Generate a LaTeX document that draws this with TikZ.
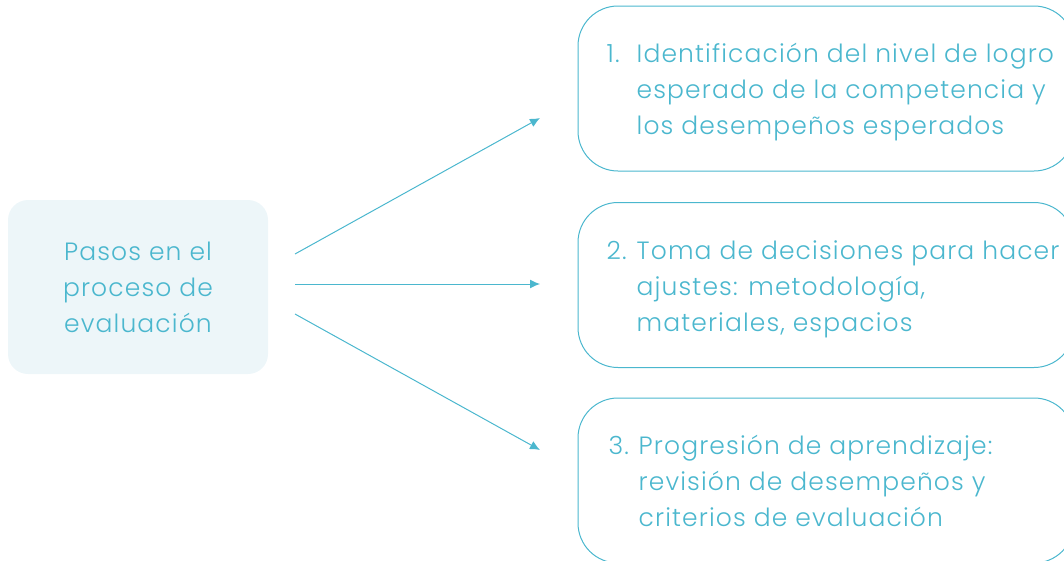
\documentclass[tikz,border=0pt]{standalone}
\usepackage{fontspec}
\setmainfont[LetterSpace=4.5]{Poppins Light}
\usetikzlibrary{positioning,arrows.meta}

\definecolor{pasoazul}{HTML}{4BB7CE}
\definecolor{pasofondo}{HTML}{EDF6F9}

\tikzset{
  pasobox/.style={draw=pasoazul, line width=1pt, rounded corners=40pt,
    minimum width=496pt, minimum height=165pt, inner sep=0pt},
  pasotexto/.style={text=pasoazul, font=\fontsize{25}{36}\selectfont,
    align=left, inner sep=0pt},
  flecha/.style={->, draw=pasoazul, line width=1pt}
}

\begin{document}
\begin{tikzpicture}[x=1pt,y=-1pt,>={Latex[length=10pt,width=9pt]}]
\useasboundingbox (0,0) rectangle (1064,560);
\clip (0,0) rectangle (1064,560);

        % left box
        \node[fill=pasofondo, rounded corners=20pt, minimum width=260pt,
              minimum height=174pt, text=pasoazul,
              font=\fontsize{25}{36}\selectfont, align=center]
              (pasos) at (138,287) {Pasos en el\\proceso de\\evaluación};

        % the three steps
        \node[pasobox] (b1) at (826,88.5) {};
        \node[pasobox] (b2) at (826,285) {};
        \node[pasobox] (b3) at (826,480.5) {};

        \node[pasotexto, right=29pt of b1.west, yshift=-3pt] (t1)
          {\begin{tabular}{@{}p{30pt}@{}l@{}}
           1. & Identificación del nivel de logro\\
              & esperado de la competencia y\\
              & los desempeños esperados
           \end{tabular}};
        \node[pasotexto, right=29pt of b2.west, yshift=-3pt] (t2)
          {\begin{tabular}{@{}p{30pt}@{}l@{}}
           2. & Toma de decisiones para hacer\\
              & ajustes: metodología,\\
              & materiales, espacios
           \end{tabular}};
        \node[pasotexto, right=31pt of b3.west, yshift=-3pt] (t3)
          {\begin{tabular}{@{}p{30pt}@{}l@{}}
           3. & Progresión de aprendizaje:\\
              & revisión de desempeños y\\
              & criterios de evaluación
           \end{tabular}};

        % arrows
        \coordinate (s1) at (295,254);
        \coordinate (s2) at (295,284);
        \coordinate (s3) at (295,314);
        \coordinate (e1) at (540,118);
        \coordinate (e2) at (540,284);
        \coordinate (e3) at (540,450);
        \draw[flecha] (s1) -- (e1);
        \draw[flecha] (s2) -- (e2);
        \draw[flecha] (s3) -- (e3);
\end{tikzpicture}
\end{document}
